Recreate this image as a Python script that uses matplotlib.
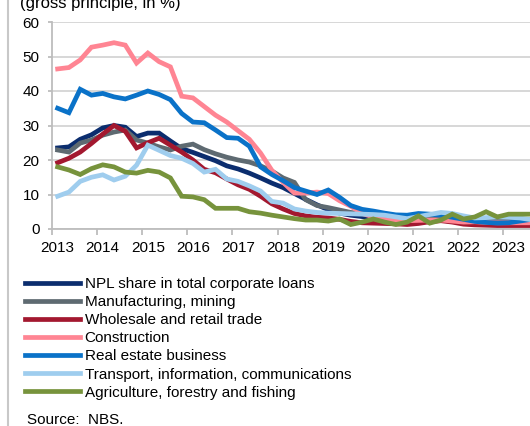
import numpy as np
import matplotlib
matplotlib.use("Agg")
import matplotlib.pyplot as plt
from matplotlib.lines import Line2D

plt.rcParams['font.family'] = ['Liberation Sans', 'DejaVu Sans']

# quarterly NPL ratios, 2013 Q1 - 2023 Q3 (gross principle, in %)
years = list(range(2013, 2024))
npl_total = [23.5, 23.8, 26.0, 27.3, 29.3, 30.0, 29.5, 26.8, 27.8, 27.8, 25.5,
             23.3, 22.2, 21.0, 19.8, 18.3, 17.4, 16.2, 14.8, 13.3, 12.0, 10.3,
             8.6, 7.0, 5.6, 4.6, 4.0, 3.6, 3.3, 3.1, 3.0, 2.8, 2.7, 2.6, 2.5,
             2.3, 2.2, 2.1, 2.0, 2.0, 1.9, 1.9, 1.9]
manufacturing = [22.9, 22.3, 24.9, 25.8, 27.2, 28.1, 28.7, 25.8, 24.9, 23.8, 22.9,
                 24.0, 24.6, 23.0, 21.8, 20.8, 20.0, 19.4, 18.3, 16.8, 14.8, 13.5,
                 8.5, 6.8, 6.2, 5.5, 4.8, 4.5, 4.2, 4.0, 3.8, 3.6, 3.5, 3.3, 3.2,
                 3.0, 2.9, 2.8, 2.7, 2.6, 2.5, 2.4, 2.4]
wholesale = [19.2, 20.5, 22.3, 24.8, 27.5, 30.0, 28.3, 23.5, 25.0, 26.3, 24.3,
             22.3, 20.0, 17.3, 16.3, 14.5, 12.8, 11.5, 9.5, 7.3, 5.8, 4.5,
             3.8, 3.4, 3.2, 2.8, 2.2, 1.8, 1.7, 1.6, 1.5, 1.3, 1.6, 2.1, 2.4,
             2.0, 1.4, 1.2, 1.1, 1.0, 1.0, 1.0, 1.0]
construction = [46.4, 46.8, 49.0, 52.7, 53.3, 54.0, 53.3, 48.1, 51.0, 48.5, 47.0,
                38.5, 38.0, 35.5, 33.0, 31.0, 28.5, 26.0, 22.0, 17.0, 13.5, 10.4,
                10.4, 10.7, 10.3, 8.2, 6.6, 4.5, 3.5, 2.8, 2.5, 2.4, 2.5, 2.6, 2.6,
                2.3, 2.0, 2.1, 1.9, 1.8, 1.8, 1.8, 1.8]
real_estate = [35.0, 33.7, 40.5, 38.8, 39.3, 38.3, 37.7, 38.8, 40.0, 39.0, 37.5,
               33.5, 31.0, 30.8, 28.7, 26.5, 26.3, 24.0, 18.0, 15.8, 14.0, 12.0,
               11.0, 10.0, 11.3, 9.2, 6.8, 5.7, 5.2, 4.6, 4.1, 4.0, 4.5, 4.3, 4.0,
               3.4, 2.8, 2.2, 1.9, 1.7, 1.8, 2.3, 2.8]
transport = [9.5, 10.7, 13.8, 15.0, 15.7, 14.2, 15.3, 18.5, 24.3, 22.8, 21.3,
             20.5, 19.0, 16.5, 17.3, 14.5, 13.8, 12.5, 11.0, 8.0, 7.5, 5.8,
             5.2, 4.8, 4.6, 4.5, 4.4, 4.3, 4.2, 4.0, 3.5, 3.0, 3.6, 4.2, 4.8,
             4.5, 3.8, 3.2, 3.3, 3.5, 3.4, 3.2, 2.7]
agriculture = [18.0, 17.1, 15.8, 17.5, 18.6, 18.0, 16.5, 16.2, 17.0, 16.5, 14.8,
               9.5, 9.3, 8.5, 6.0, 6.0, 6.0, 5.0, 4.6, 4.0, 3.5, 3.0,
               2.6, 2.6, 2.3, 2.9, 1.3, 2.0, 2.9, 2.0, 1.3, 2.0, 3.8, 1.7, 2.6,
               4.3, 2.9, 3.5, 5.0, 3.5, 4.3, 4.3, 4.3]

labels = ['NPL share in total corporate loans', 'Manufacturing, mining',
          'Wholesale and retail trade', 'Construction', 'Real estate business',
          'Transport, information, communications',
          'Agriculture, forestry and fishing']
series = [npl_total, manufacturing, wholesale, construction, real_estate,
          transport, agriculture]
colors = ['#0b2d6e', '#5e6a71', '#a3182f', '#ff8593', '#0a72c8', '#9fcdee', '#77933c']

# each quarter plotted at its midpoint
t = 2013 + (np.arange(len(npl_total)) + 0.5) / 4

fig = plt.figure(figsize=(5.30, 4.26), dpi=100)
ax = fig.add_axes([52 / 530, 1 - 229 / 426, 1 - 52 / 530, (229 - 22) / 426])

handles = []
for vals, lab, col in zip(series, labels, colors):
    h, = ax.plot(t, vals, color=col, lw=3.4, label=lab, solid_joinstyle='miter')
    handles.append(h)

ax.set_xlim(2013, 2013 + (530 - 52) / 45.1)
ax.set_ylim(0, 60)
ax.set_yticks(range(0, 61, 10))
ax.yaxis.grid(True, color='#d4d4d4', lw=1.3)
ax.set_axisbelow(True)

# year boundaries get tick marks, labels sit under the first quarter
ax.set_xticks(years)
ax.set_xticklabels([])
ax.set_xticks([y + 0.125 for y in years], minor=True)
ax.set_xticklabels([str(y) for y in years], minor=True)
ax.tick_params(axis='x', which='major', length=4, width=1.3, color='#bdbdbd')
ax.tick_params(axis='x', which='minor', length=0, pad=9, labelsize=11)
ax.tick_params(axis='y', length=3, width=1.3, color='#bdbdbd', labelsize=11, pad=6)

for side in ['top', 'right']:
    ax.spines[side].set_visible(False)
for side in ['left', 'bottom']:
    ax.spines[side].set_color('#bdbdbd')
    ax.spines[side].set_linewidth(1.3)

fig.text(20 / 530, 1 - 8 / 426, '(gross principle, in %)', fontsize=12,
         va='baseline', ha='left')

fig.legend(handles=handles, loc='upper left', bbox_to_anchor=(25 / 530, 1 - 277 / 426),
           frameon=False, fontsize=11, handlelength=3.6, handletextpad=0.3,
           labelspacing=0.27, borderaxespad=0, borderpad=0)

fig.text(27 / 530, 1 - 420 / 426, 'Source:  NBS.', fontsize=11, va='center', ha='left')

fig.add_artist(Line2D([8 / 530, 8 / 530], [0, 1], color='#c8c8c8', lw=1.5))

fig.savefig('out.png', dpi=100)
